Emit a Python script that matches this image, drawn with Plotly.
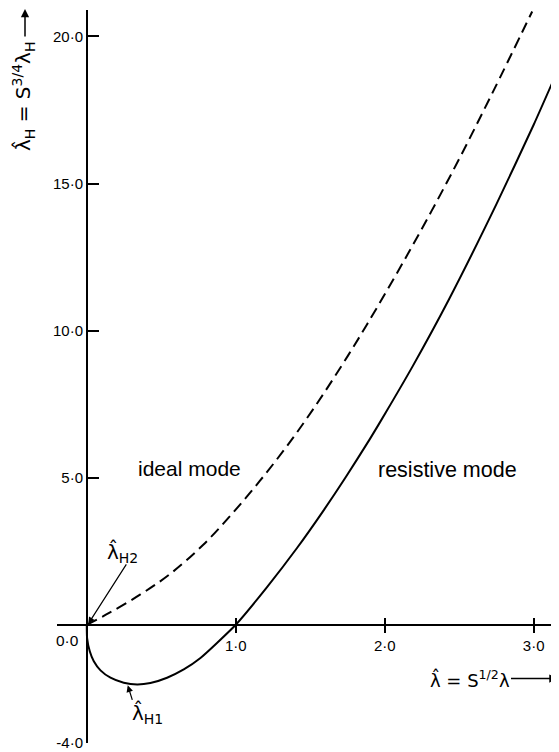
import plotly.graph_objects as go

# Data
ideal_x = [0, 0.15, 0.36, 0.56, 0.78, 0.98, 1.16, 1.34, 1.52, 1.70, 1.88, 2.17, 2.46, 2.72, 2.99]
ideal_y = [0, 0.40, 1.03, 1.73, 2.71, 3.80, 4.88, 6.05, 7.33, 8.72, 10.20, 12.74, 15.45, 18.05, 20.85]

resistive_x = [0, 0.002, 0.02, 0.047, 0.092, 0.159, 0.248, 0.338, 0.427, 0.539, 0.651, 0.763,
               0.874, 1.0, 1.21, 1.41, 1.59, 1.74, 1.90, 2.01, 2.19, 2.43, 2.75, 3.00, 3.17]
resistive_y = [0, -0.45, -0.90, -1.24, -1.55, -1.80, -1.97, -2.03, -1.98, -1.80, -1.52, -1.13,
               -0.62, 0, 1.28, 2.60, 3.89, 5.03, 6.31, 7.24, 8.81, 11.05, 14.3, 17.0, 18.95]

x_tickvals = [1, 2, 3]
x_ticktext = ["1·0", "2·0", "3·0"]
y_tickvals = [-4, 5, 10, 15, 20]
y_ticktext = ["-4·0", "5·0", "10·0", "15·0", "20·0"]

XR = [-0.2, 3.17]
YR = [-4.02, 20.9]
FONT = "Liberation Sans, Arial, sans-serif"
HAT = "\u0302"

fig = go.Figure()
fig.add_trace(go.Scatter(
    x=ideal_x, y=ideal_y, mode="lines",
    line=dict(color="black", width=2, dash="11px,6px", shape="spline", smoothing=1.0),
    showlegend=False, hoverinfo="skip"))
fig.add_trace(go.Scatter(
    x=resistive_x, y=resistive_y, mode="lines",
    line=dict(color="black", width=2, shape="spline", smoothing=0.6),
    showlegend=False, hoverinfo="skip"))
fig.add_trace(go.Scatter(x=[None], y=[None], xaxis="x2", mode="lines",
                         showlegend=False, hoverinfo="skip"))

xpos = (0 - YR[0]) / (YR[1] - YR[0])
ypos = (0 - XR[0]) / (XR[1] - XR[0])

fig.update_layout(
    width=551, height=744,
    margin=dict(l=49, r=0, t=2, b=9),
    plot_bgcolor="white", paper_bgcolor="white",
    font=dict(family=FONT, color="black", size=15),
    xaxis=dict(range=XR, showgrid=False, zeroline=False, showline=True,
               linecolor="black", linewidth=1.5, anchor="free", position=xpos,
               tickvals=x_tickvals, ticktext=x_ticktext, ticks="outside",
               ticklen=7, tickwidth=1.5, tickcolor="black",
               ticklabeloverflow="allow",
               tickfont=dict(size=15, family=FONT)),
    xaxis2=dict(range=XR, overlaying="x", showgrid=False, zeroline=False,
                showline=False, anchor="free", position=xpos,
                tickvals=x_tickvals, ticks="inside", ticklen=7, tickwidth=1.5,
                tickcolor="black", showticklabels=False),
    yaxis=dict(range=YR, showgrid=False, zeroline=False, showline=True,
               linecolor="black", linewidth=1.5, anchor="free", position=ypos,
               tickvals=y_tickvals, ticktext=y_ticktext, ticks="inside",
               ticklen=11, tickwidth=1.5, tickcolor="black",
               ticklabeloverflow="allow",
               tickfont=dict(size=15, family=FONT)),
)

ann = []
# origin label
ann.append(dict(x=0, y=0, xref="x", yref="y", text="0·0", showarrow=False,
                xanchor="right", yanchor="middle", xshift=-6, yshift=-16,
                font=dict(size=15.5, family=FONT)))
# region labels
ann.append(dict(x=0.69, y=5.3, xref="x", yref="y", text="ideal mode", showarrow=False,
                font=dict(size=21, family=FONT)))
ann.append(dict(x=2.42, y=5.25, xref="x", yref="y", text="resistive mode", showarrow=False,
                font=dict(size=21.5, family=FONT)))
# lambda_H2 label + arrow
ann.append(dict(x=0.24, y=2.45, xref="x", yref="y", text="λ" + HAT + "<sub>H2</sub>",
                showarrow=False, font=dict(size=20, family="DejaVu Sans")))
ann.append(dict(x=0.01, y=0.03, xref="x", yref="y", text="", showarrow=True,
                ax=39, ay=-61, arrowhead=2, arrowsize=1.1, arrowwidth=1.2,
                arrowcolor="black"))
# lambda_H1 label + arrow
ann.append(dict(x=0.41, y=-3.0, xref="x", yref="y", text="λ" + HAT + "<sub>H1</sub>",
                showarrow=False, font=dict(size=20, family="DejaVu Sans")))
ann.append(dict(x=0.275, y=-2.06, xref="x", yref="y", text="", showarrow=True,
                ax=5, ay=16, arrowhead=2, arrowsize=1.1, arrowwidth=1.2,
                arrowcolor="black"))
# x-axis title + arrow
ann.append(dict(x=2.57, y=-1.83, xref="x", yref="y",
                text="λ" + HAT + " = S<sup>1/2</sup>λ", showarrow=False,
                font=dict(size=18, family="DejaVu Sans")))
ann.append(dict(x=3.16, y=-1.83, xref="x", yref="y", text="", showarrow=True,
                ax=-48, ay=0, arrowhead=2, arrowsize=1.1, arrowwidth=1.5,
                arrowcolor="black"))
# y-axis title + arrow
ann.append(dict(x=(24 - 57) / 502, y=(743 - 97) / 733, xref="paper", yref="paper",
                xanchor="center", yanchor="middle",
                text="λ" + HAT + "<sub>H</sub> = S<sup>3/4</sup>λ<sub>H</sub>",
                textangle=-90, showarrow=False,
                font=dict(size=20, family="DejaVu Sans")))
ann.append(dict(x=(25 - 57) / 502, y=(743 - 6) / 733, xref="paper", yref="paper",
                text="", showarrow=True, ax=0, ay=32, arrowhead=2, arrowsize=1.1,
                arrowwidth=1.5, arrowcolor="black"))

fig.update_layout(annotations=ann)
fig.write_html("out.html")
